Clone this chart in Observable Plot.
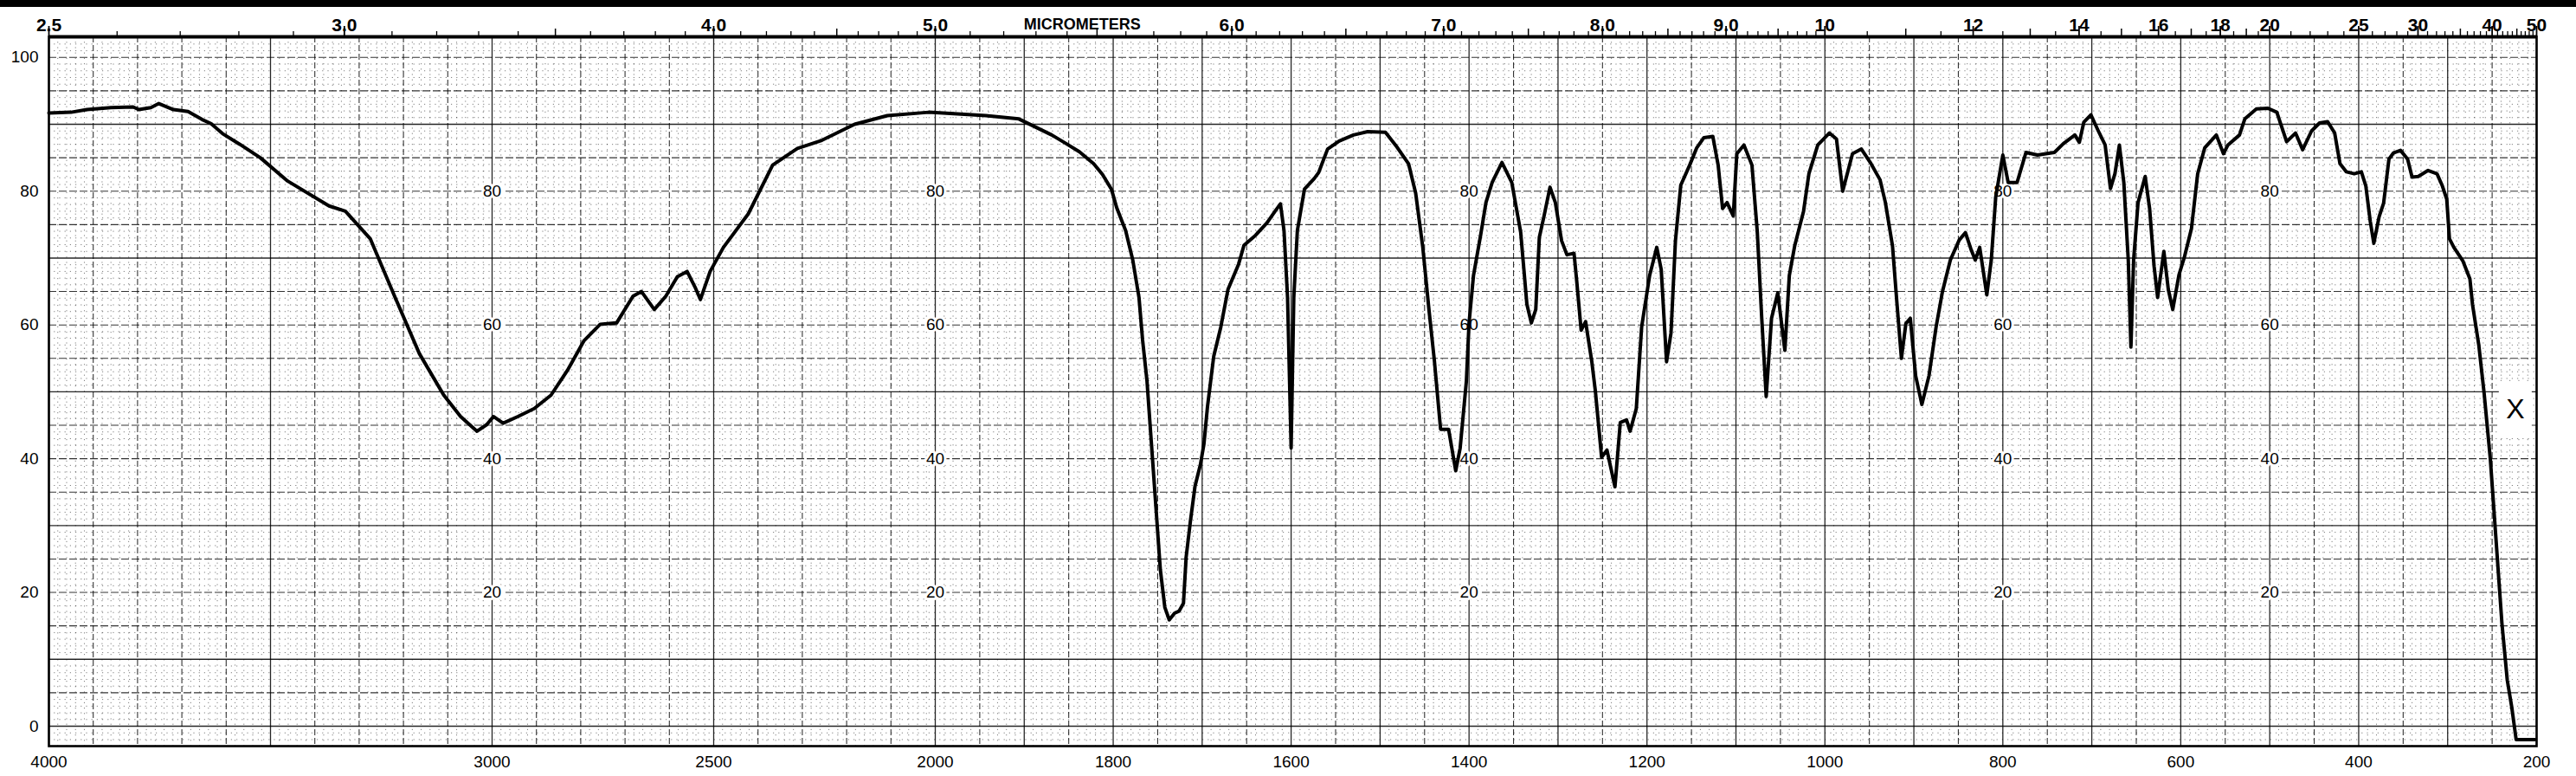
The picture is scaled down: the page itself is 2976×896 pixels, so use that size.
<!DOCTYPE html>
<html><head><meta charset="utf-8">
<script src="https://cdn.jsdelivr.net/npm/d3@7"></script>
<script src="https://cdn.jsdelivr.net/npm/@observablehq/plot@0.6"></script>
<style>
html,body{margin:0;padding:0;background:#fff;}
#wrap{position:relative;width:2976px;height:896px;overflow:hidden;background:#fff;}
#band{position:absolute;left:0;top:0;width:2976px;height:8px;background:#000;}
</style></head><body><div id="wrap"><div id="band"></div></div>
<script>
// ---- spectrum (wavenumber cm-1, % transmittance) ----
const wavenumber = [4000,3950,3914,3860,3810,3797,3770,3752,3719,3686,3654,3634,3608,3569,3523,3461,3368,3331,3275,3220,3164,3109,3071,3034,3012,2997,2975,2942,2905,2867,2830,2793,2756,2719,2682,2663,2634,2608,2582,2560,2541,2530,2508,2478,2422,2367,2311,2256,2182,2108,2015,1943,1906,1869,1854,1838,1822,1812,1802,1796,1786,1778,1771,1767,1762,1757,1752,1747,1742,1737,1731,1726,1721,1718,1713,1708,1702,1698,1694,1687,1679,1671,1659,1653,1640,1627,1617,1612,1608,1604,1600,1597,1593,1585,1574,1569,1559,1546,1530,1514,1494,1481,1468,1460,1452,1445,1439,1432,1423,1415,1410,1403,1400,1395,1387,1381,1374,1363,1352,1342,1335,1330,1325,1321,1316,1309,1303,1296,1290,1282,1279,1274,1269,1262,1258,1251,1245,1236,1230,1223,1219,1212,1206,1197,1189,1184,1178,1173,1168,1162,1152,1144,1136,1126,1120,1115,1110,1103,1099,1091,1082,1076,1071,1066,1060,1053,1045,1040,1034,1024,1018,1008,995,987,980,969,959,949,938,932,924,919,914,909,904,898,891,883,875,868,859,849,842,836,831,826,818,813,808,800,794,784,774,761,742,732,719,714,709,701,693,685,679,674,669,664,659,656,653,648,640,635,630,626,619,614,609,602,596,588,581,573,560,552,547,534,528,515,502,492,486,481,471,463,453,444,435,427,421,414,405,397,392,387,383,377,372,366,361,353,345,340,333,322,312,306,301,298,293,283,275,272,265,259,252,246,239,233,228,223,202];
const transmittance = [91.7,91.8,92.2,92.5,92.6,92.2,92.5,93.1,92.2,91.9,90.7,90.1,88.6,87.0,85.0,81.5,77.8,77.0,72.9,64.3,55.7,49.5,46.3,44.1,45.1,46.3,45.3,46.3,47.5,49.5,53.2,57.6,60.1,60.3,64.3,65.0,62.3,64.3,67.2,68.0,65.5,63.8,68.0,71.6,76.6,83.9,86.4,87.6,90.0,91.3,91.8,91.3,90.8,88.4,87.2,85.9,84.1,82.5,80.3,77.5,74.1,69.7,64.1,57.8,51.6,42.2,32.8,23.4,17.8,15.9,16.9,17.2,18.4,25.3,30.9,35.9,39.1,42.2,47.8,55.3,59.7,65.3,69.1,71.9,73.4,75.3,77.2,78.1,74.1,64.1,41.6,64.1,74.1,80.3,81.9,82.8,86.3,87.5,88.4,88.9,88.8,86.6,84.1,79.7,71.6,62.2,54.7,44.4,44.4,38.2,41.6,51.6,60.3,67.4,73.4,78.3,81.3,84.3,81.3,73.9,63.1,60.3,62.3,73.1,76.1,80.6,78.3,72.6,70.5,70.7,66.6,59.2,60.5,54.5,50.1,40.2,41.3,35.8,45.4,45.8,44.1,47.5,59.7,67.4,71.6,68.3,54.5,58.8,72.6,80.9,83.9,86.5,88.0,88.2,83.9,77.4,78.3,76.3,85.6,86.9,83.9,73.9,61.0,49.3,61.0,64.8,56.2,67.4,71.8,77.0,82.6,86.9,88.7,87.8,80.0,85.6,86.3,84.3,81.7,78.3,71.8,63.2,55.0,60.2,61.0,52.4,48.1,52.4,59.7,64.9,69.7,72.7,73.8,71.4,69.7,71.6,64.5,69.7,79.1,85.4,81.3,81.3,85.8,85.4,85.8,87.1,88.4,87.3,90.3,91.4,89.1,86.9,80.4,82.6,86.9,81.3,69.7,56.7,69.7,78.3,82.2,77.4,68.8,64.1,71.0,65.3,62.3,67.5,70.1,74.4,82.6,86.5,88.4,85.6,86.9,88.4,90.8,92.3,92.4,91.8,89.4,87.4,88.7,86.2,89.0,90.2,90.4,88.7,84.1,82.9,82.6,82.9,80.8,75.5,72.2,76.2,78.2,84.8,85.7,86.1,84.8,82.1,82.2,83.1,82.6,80.8,78.8,72.9,71.6,69.6,66.9,63.0,57.0,49.8,39.9,28.6,15.4,6.9,2.9,-2.0,-2.0];

// ---- axes / labels ----
const bottomTicks = [4000,3000,2500,2000,1800,1600,1400,1200,1000,800,600,400,200];
const leftTicks = [100,80,60,40,20,0];
const innerLabelAt = [3000,2000,1400,800,500];
const innerLabelValues = [80,60,40,20];
const micronLabels = [2.5,3.0,4.0,5.0,6.0,7.0,8.0,9.0,10,12,14,16,18,20,25,30,40,50];
const micronText = ["2.5","3.0","4.0","5.0","6.0","7.0","8.0","9.0","10","12","14","16","18","20","25","30","40","50"];
const unitTitle = "MICROMETERS";
const unitTitleAt = 5.45;
const markerText = "X";
const markerAt = {w: 224, t: 47.3};
const markerBox = {w1: 242, w2: 205, t1: 43.3, t2: 51.4};

// ---- chart paper grid (positions on the paper) ----
const solidV = [...d3.range(4000, 1999, -500), ...d3.range(1900, 199, -100)];
const dashedV = [...d3.range(4000, 2000, -100).filter(v => v % 500), ...d3.range(1950, 200, -100)];
const fineV = [...d3.range(4000, 2000, -20).filter(v => v % 100), ...d3.range(2000, 200, -10).filter(v => v % 50)];
const boldH = [90, 70, 50, 30, 10, 0];
const thinH = d3.range(5, 101, 5).filter(v => !boldH.includes(v));
const fineH = d3.range(-2, 104, 1).filter(v => v % 5);

// micrometer tick marks on the top edge
const micronMid = [];
const micronMinor = [];
for (let m = 2.6; m < 10; m = Math.round((m + 0.1) * 10) / 10) {
  if (micronLabels.includes(m)) continue;
  (Math.abs(m * 2 - Math.round(m * 2)) < 1e-9 ? micronMid : micronMinor).push(m);
}
for (let m = 10.5; m < 20; m += 0.5) {
  if (micronLabels.includes(m)) continue;
  (Number.isInteger(m) ? micronMid : micronMinor).push(m);
}
for (let m = 21; m < 50; m += 1) {
  if (micronLabels.includes(m)) continue;
  (m % 5 === 0 ? micronMid : micronMinor).push(m);
}

const spectrum = wavenumber.map((w, i) => ({w, t: transmittance[i]}));
const inner = innerLabelAt.flatMap(w => innerLabelValues.map(t => ({w, t})));

// y scale: 100% at 65.8px, 0% at 838px; frame top at 42px
const pxPerUnit = (838 - 65.8) / 100;
const topVal = (838 - 42) / pxPerUnit;
const tickUp = len => topVal + len / pxPerUnit;

const font = "'Liberation Sans', Arial, sans-serif";

const chart = Plot.plot({
  width: 2976,
  height: 896,
  marginTop: 42,
  marginBottom: 35,
  marginLeft: 56,
  marginRight: 46,
  x: {type: "linear", domain: [4000, 2000, 200], range: [56, 1080, 2930], axis: null},
  y: {type: "linear", domain: [0, 100], range: [838, 65.8], axis: null},
  style: {fontFamily: font, background: "white", color: "black", overflow: "visible"},
  marks: [
    Plot.ruleX(fineV, {x: d => d, stroke: "#000", strokeOpacity: 0.5, strokeWidth: 1, strokeDasharray: "1.2,5"}),
    Plot.ruleY(fineH, {y: d => d, stroke: "#000", strokeOpacity: 0.5, strokeWidth: 1, strokeDasharray: "1.2,5"}),
    Plot.ruleX(dashedV, {x: d => d, stroke: "#000", strokeOpacity: 0.8, strokeWidth: 1.1, strokeDasharray: "7,3"}),
    Plot.ruleX(solidV, {x: d => d, stroke: "#000", strokeOpacity: 0.85, strokeWidth: 1.3}),
    Plot.ruleY(thinH, {y: d => d, stroke: "#000", strokeOpacity: 0.8, strokeWidth: 1.1, strokeDasharray: "9,3"}),
    Plot.ruleY(boldH, {y: d => d, stroke: "#000", strokeOpacity: 0.85, strokeWidth: 1.4}),
    Plot.rect([markerBox], {x1: "w1", x2: "w2", y1: "t1", y2: "t2", fill: "white"}),
    Plot.text(inner, {x: "w", y: "t", text: d => String(d.t), fill: "#000", stroke: "white", strokeWidth: 6, fontSize: 19}),
    Plot.frame({stroke: "#000", strokeWidth: 2.6}),
    Plot.ruleY([topVal], {stroke: "#000", strokeWidth: 4}),
    // top micrometer ticks
    Plot.ruleX(micronLabels, {x: d => 10000 / d, y1: topVal, y2: tickUp(12), stroke: "#000", strokeWidth: 1.8}),
    Plot.ruleX(micronMid, {x: d => 10000 / d, y1: topVal, y2: tickUp(9), stroke: "#000", strokeWidth: 1.5}),
    Plot.ruleX(micronMinor, {x: d => 10000 / d, y1: topVal, y2: tickUp(6), stroke: "#000", strokeWidth: 1.3}),
    Plot.text(micronLabels, {x: d => 10000 / d, frameAnchor: "top", dy: -21, text: (d, i) => micronText[i], fontSize: 21, fontWeight: 700, fill: "#000"}),
    Plot.text([unitTitle], {x: () => 10000 / unitTitleAt, frameAnchor: "top", dy: -21, text: d => d, fontSize: 18, fontWeight: 700, fill: "#000"}),
    // bottom wavenumber labels
    Plot.text(bottomTicks, {x: d => d, frameAnchor: "bottom", dy: 24, text: d => String(d), fontSize: 19, fill: "#000"}),
    // left % labels
    Plot.text(leftTicks, {y: d => d, frameAnchor: "left", dx: -12, textAnchor: "end", text: d => String(d), fontSize: 19, fill: "#000"}),
    // spectrum
    Plot.line(spectrum, {x: "w", y: "t", stroke: "#000", strokeWidth: 4, strokeLinejoin: "round", strokeLinecap: "round"}),
    Plot.text([markerText], {x: () => markerAt.w, y: () => markerAt.t, text: d => d, fontSize: 32, fill: "#000"})
  ]
});
document.getElementById("wrap").insertBefore(chart, document.getElementById("band"));
</script>
</body></html>
